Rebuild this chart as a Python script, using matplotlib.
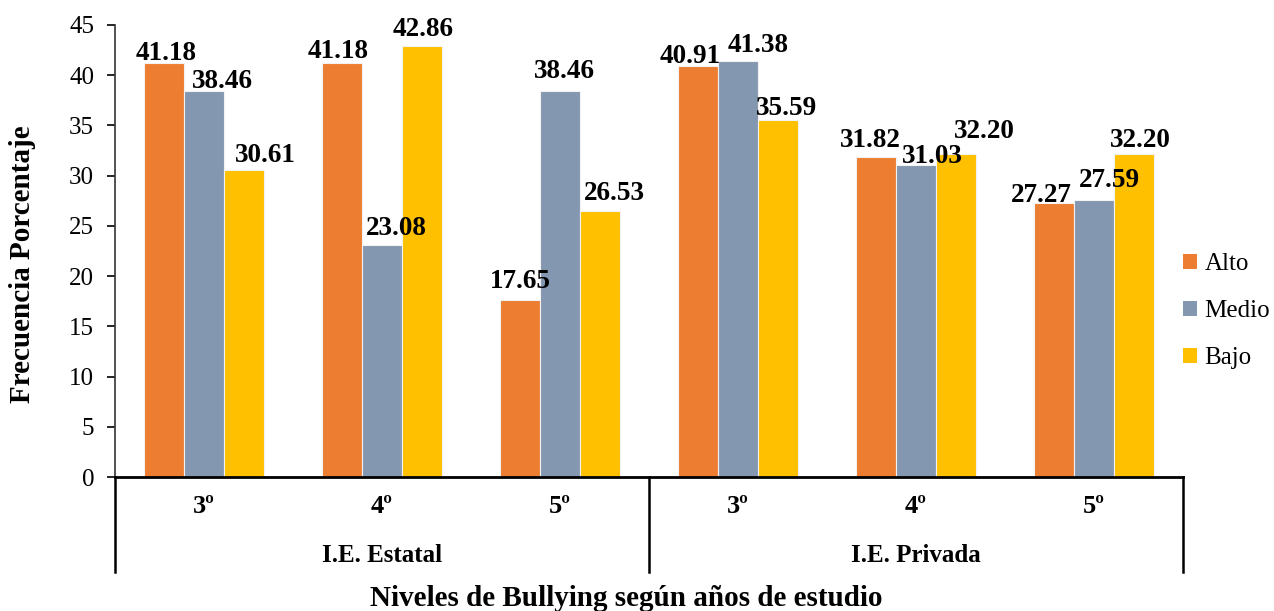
import matplotlib.pyplot as plt
import numpy as np

plt.rcParams['font.family'] = ['Liberation Serif', 'DejaVu Serif']

grades = ['3º', '4º', '5º', '3º', '4º', '5º']
schools = ['I.E. Estatal', 'I.E. Privada']
levels = ['Alto', 'Medio', 'Bajo']
alto = [41.18, 41.18, 17.65, 40.91, 31.82, 27.27]
medio = [38.46, 23.08, 38.46, 41.38, 31.03, 27.59]
bajo = [30.61, 42.86, 26.53, 35.59, 32.20, 32.20]
colors = ['#ED7D31', '#8497B0', '#FFC000']

# label nudges (pixels) as placed by hand in the original chart
nudge = [
    [(2, 3), (-4, 5), (0, 12), (-8, 3), (-6, 10), (-13, 1)],
    [(18, 3), (14, 10), (4, 13), (20, 9), (16, 2), (15, 13)],
    [(21, 8), (1, 10), (14, 11), (9, 5), (28, 16), (6, 7)],
]

fig = plt.figure(figsize=(12.74, 6.11), dpi=100)
ax = fig.add_axes([0.0903, 0.2193, 0.8383, 0.7398])

x = np.arange(len(grades))
w = 0.224
for k, (vals, name) in enumerate(zip([alto, medio, bajo], levels)):
    pos = x + (k - 1) * w
    ax.bar(pos, vals, w, color=colors[k], edgecolor='#F2F2F2', linewidth=0.8, label=name)
    for i, (p, v) in enumerate(zip(pos, vals)):
        ax.annotate('%.2f' % v, (p, v), xytext=nudge[k][i], textcoords='offset pixels',
                    ha='center', va='baseline', fontsize=19.5, fontweight='bold')

ax.set_xlim(-0.5, 5.5)
ax.set_ylim(0, 45)
ax.set_yticks(range(0, 46, 5))
ax.tick_params(axis='y', labelsize=18, length=6, width=1.2, pad=9, direction='out')
ax.set_xticks([])
for s in ['top', 'right']:
    ax.spines[s].set_visible(False)
ax.spines['left'].set_linewidth(1.2)
ax.spines['left'].set_color('#333333')
ax.spines['bottom'].set_linewidth(2)

# two-level category axis
tr = ax.get_xaxis_transform()
for xs in [-0.5, 2.5, 5.5]:
    ax.plot([xs, xs], [0, -0.21], color='black', lw=1.8, transform=tr, clip_on=False)
for i, g in enumerate(grades):
    ax.text(i, -0.066, g, transform=tr, ha='center', va='center',
            fontsize=19, fontweight='bold')
for j, s in enumerate(schools):
    ax.text(1 + 3 * j, -0.173, s, transform=tr, ha='center', va='center',
            fontsize=18, fontweight='bold')

ax.set_ylabel('Frecuencia Porcentaje', fontsize=21, fontweight='bold')
ax.yaxis.set_label_coords(-0.074, 0.47)
fig.text(626 / 1274, 1 - 598 / 611, 'Niveles de Bullying según años de estudio',
         ha='center', va='center', fontsize=21, fontweight='bold')

ax.legend(loc='center left', bbox_to_anchor=(1183 / 1274, 1 - 311 / 611),
          bbox_transform=fig.transFigure, frameon=False, fontsize=18,
          borderpad=0, borderaxespad=0, handlelength=0.56, handleheight=0.56,
          handletextpad=0.3, labelspacing=1.0)
for h in ax.get_legend().legend_handles:
    h.set_edgecolor('none')

fig.savefig('out.png', dpi=100)
